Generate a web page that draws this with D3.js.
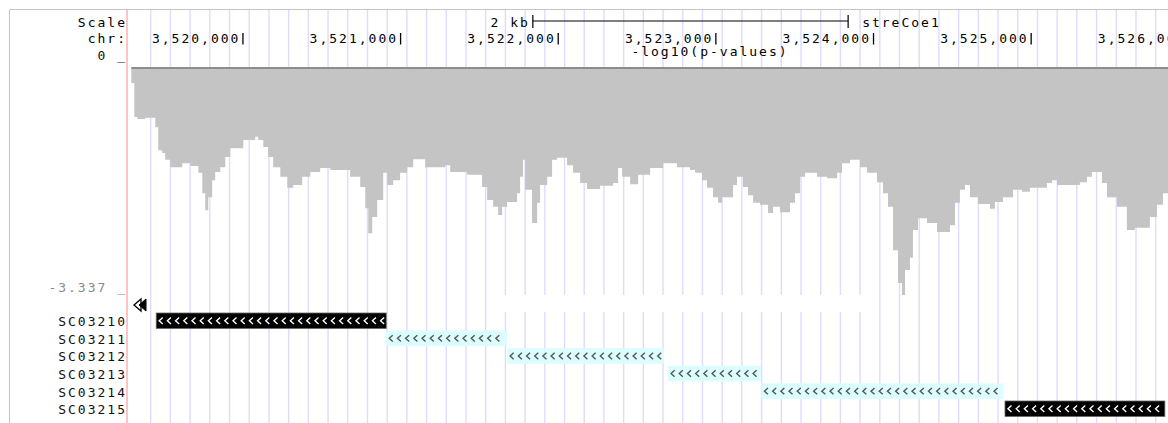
<!DOCTYPE html>
<html>
<head>
<meta charset="utf-8">
<script src="https://cdn.jsdelivr.net/npm/d3@7"></script>
<style>
  body { margin: 0; background: #fff; }
  svg text { font-family: "DejaVu Sans Mono", "Liberation Mono", monospace; font-size: 13px; letter-spacing: 2px; }
</style>
</head>
<body>
<script>
// Displayed window on the chromosome
const viewStart = 3519290;
const viewEnd = 3525868;
const assemblyName = "streCoe1";
const trackTitle = "-log10(p-values)";
const scaleBarStart = 3521839;
const scaleBarLength = 2000;
const scaleBarLabel = "2 kb";

// Chromosome position labels
const axisTicks = [3520000, 3521000, 3522000, 3523000, 3524000, 3525000, 3526000];

// Wiggle track: y-axis limits
const scoreMax = 0;
const scoreMin = -3.337;

// Wiggle track: start of each bin and its score
const binStart = [
  3519292, 3519311, 3519330, 3519380, 3519444, 3519463, 3519488, 3519507, 3519539, 3519615,
  3519666, 3519717, 3519742, 3519761, 3519780, 3519805, 3519824, 3519856, 3519888, 3519920,
  3520002, 3520078, 3520097, 3520129, 3520160, 3520192, 3520237, 3520281, 3520319, 3520376,
  3520427, 3520490, 3520554, 3520680, 3520744, 3520776, 3520795, 3520820, 3520852, 3520890,
  3520915, 3520953, 3520997, 3521042, 3521080, 3521156, 3521283, 3521315, 3521422, 3521517,
  3521549, 3521587, 3521619, 3521644, 3521676, 3521739, 3521758, 3521777, 3521790, 3521834,
  3521866, 3521885, 3521930, 3521961, 3521993, 3522056, 3522094, 3522139, 3522183, 3522266,
  3522348, 3522380, 3522405, 3522456, 3522507, 3522583, 3522665, 3522754, 3522836, 3522868,
  3522912, 3522944, 3522982, 3523014, 3523039, 3523109, 3523134, 3523172, 3523204, 3523236,
  3523280, 3523331, 3523363, 3523407, 3523470, 3523502, 3523534, 3523566, 3523642, 3523705,
  3523769, 3523800, 3523851, 3523914, 3523959, 3524022, 3524060, 3524092, 3524124, 3524155,
  3524181, 3524200, 3524231, 3524250, 3524282, 3524339, 3524403, 3524485, 3524517, 3524548,
  3524580, 3524612, 3524663, 3524739, 3524770, 3524821, 3524885, 3524942, 3524992, 3525100,
  3525132, 3525164, 3525309, 3525354, 3525385, 3525449, 3525481, 3525544, 3525607, 3525658,
  3525753, 3525798, 3525836
];
const score = [
  -0.22, -0.72, -0.75, -0.73, -0.87, -1.21, -1.25, -1.35, -1.46, -1.40,
  -1.44, -1.54, -1.84, -2.09, -1.90, -1.65, -1.53, -1.46, -1.31, -1.18,
  -1.06, -1.01, -1.06, -1.16, -1.31, -1.46, -1.60, -1.76, -1.72, -1.60,
  -1.53, -1.47, -1.50, -1.60, -1.75, -2.06, -2.43, -2.19, -1.94, -1.54,
  -1.72, -1.65, -1.54, -1.46, -1.34, -1.46, -1.43, -1.53, -1.57, -1.75,
  -1.94, -2.04, -2.16, -2.04, -1.97, -1.84, -1.60, -1.35, -1.79, -2.28,
  -1.98, -1.72, -1.60, -1.35, -1.32, -1.43, -1.54, -1.69, -1.78, -1.73,
  -1.69, -1.47, -1.60, -1.71, -1.57, -1.47, -1.40, -1.46, -1.50, -1.54,
  -1.65, -1.76, -1.90, -1.98, -1.90, -1.72, -1.60, -1.75, -1.87, -1.98,
  -2.01, -2.13, -2.04, -2.12, -1.98, -1.84, -1.60, -1.54, -1.60, -1.62,
  -1.54, -1.40, -1.35, -1.46, -1.54, -1.68, -1.84, -2.04, -2.68, -3.16,
  -3.337, -2.97, -2.79, -2.38, -2.21, -2.28, -2.41, -2.31, -1.98, -1.79,
  -1.72, -1.90, -2.00, -2.07, -1.97, -1.90, -1.79, -1.82, -1.76, -1.69,
  -1.65, -1.72, -1.68, -1.60, -1.53, -1.69, -1.90, -2.04, -2.38, -2.35,
  -2.19, -2.01, -1.84
];

// Gene track (all on the minus strand)
const geneNames = ["SC03210", "SC03211", "SC03212", "SC03213", "SC03214", "SC03215"];
const geneStart = [3519450, 3520909, 3521676, 3522697, 3523289, 3524834];
const geneEnd   = [3520909, 3521676, 3522671, 3523285, 3524821, 3525848];
const geneHighlighted = [true, false, false, false, false, true];

const W = 1168, H = 423;
const svg = d3.select("body").append("svg").attr("width", W).attr("height", H);

const dataLeft = 131, dataRight = 1168;
const x = d3.scaleLinear().domain([viewStart, viewEnd]).range([dataLeft, dataRight]);
const y = d3.scaleLinear().domain([scoreMax, scoreMin]).range([68, 295]);

// frame
svg.append("line").attr("x1", 9.5).attr("x2", W).attr("y1", 9.5).attr("y2", 9.5).attr("stroke", "#c4c4c4");
svg.append("line").attr("x1", 9.5).attr("x2", 9.5).attr("y1", 9.5).attr("y2", H).attr("stroke", "#c4c4c4");

// vertical guidelines every 125 bp
svg.append("g").selectAll("line")
  .data(d3.range(viewStart + 125, viewEnd + 1000, 125))
  .join("line")
  .attr("x1", d => x(d)).attr("x2", d => x(d))
  .attr("y1", 10).attr("y2", H)
  .attr("stroke", "#dcdcff").attr("stroke-width", 1.4);

// label gutter divider
svg.append("line").attr("x1", 127).attr("x2", 127).attr("y1", 10).attr("y2", H)
  .attr("stroke", "#ffb4b4").attr("stroke-width", 1.6);

// blank strip under the wiggle
svg.append("rect").attr("x", 503).attr("y", 295).attr("width", 374).attr("height", 17).attr("fill", "#fff");

// scale bar
const sb0 = x(scaleBarStart), sb1 = x(scaleBarStart + scaleBarLength);
const sbg = svg.append("g").attr("stroke", "#000").attr("stroke-width", 1.2);
sbg.append("line").attr("x1", sb0).attr("x2", sb1).attr("y1", 21).attr("y2", 21);
sbg.append("line").attr("x1", sb0).attr("x2", sb0).attr("y1", 15).attr("y2", 28);
sbg.append("line").attr("x1", sb1).attr("x2", sb1).attr("y1", 15).attr("y2", 28);
svg.append("text").attr("x", sb0 - 3).attr("y", 27).attr("text-anchor", "end").text(scaleBarLabel);
svg.append("text").attr("x", sb1 + 14).attr("y", 27).text(assemblyName);

// left labels
svg.append("text").attr("x", 127).attr("y", 27).attr("text-anchor", "end").text("Scale");
svg.append("text").attr("x", 127).attr("y", 43).attr("text-anchor", "end").text("chr:");

// chromosome position ticks
const tg = svg.append("g").selectAll("g").data(axisTicks).join("g");
tg.append("text").attr("x", d => x(d) - 2.5).attr("y", 43).attr("text-anchor", "end")
  .text(d => d3.format(",")(d));
tg.append("line").attr("x1", d => x(d)).attr("x2", d => x(d)).attr("y1", 33).attr("y2", 44.5)
  .attr("stroke", "#000").attr("stroke-width", 1.3);

// wiggle track title
svg.append("text").attr("x", 710).attr("y", 56).attr("text-anchor", "middle").text(trackTitle);

// wiggle axis labels
svg.append("text").attr("x", 127).attr("y", y(scoreMax) - 8).attr("text-anchor", "end").attr("fill", "#111").text(`${scoreMax} _`);
svg.append("text").attr("x", 127).attr("y", y(scoreMin) - 3).attr("text-anchor", "end").attr("fill", "#8a8a8a").text(`${scoreMin} _`);

// wiggle area
const bins = binStart.map((s, i) => ({ s, v: score[i] }));
bins.push({ s: viewEnd, v: score[score.length - 1] });
const area = d3.area().curve(d3.curveStepAfter)
  .x(d => x(d.s)).y0(y(0)).y1(d => y(d.v));
svg.append("path").datum(bins).attr("d", area).attr("fill", "#c4c4c4");
svg.append("line").attr("x1", x(binStart[0])).attr("x2", W).attr("y1", y(0)).attr("y2", y(0))
  .attr("stroke", "#8c8c8c").attr("stroke-width", 2);

// gene rows
const rowTop = i => 313 + 17.6 * i;
const rowH = 15.5;
geneNames.forEach((name, i) => {
  const g = svg.append("g");
  const x0 = x(geneStart[i]), x1 = x(geneEnd[i]);
  const top = rowTop(i), mid = top + rowH / 2;
  g.append("text").attr("x", 127).attr("y", mid + 5.5).attr("text-anchor", "end").attr("fill", "#111").text(name);
  g.append("rect").attr("x", x0).attr("y", top).attr("width", x1 - x0).attr("height", rowH)
    .attr("fill", geneHighlighted[i] ? "#000" : "#dcfdfd")
    .attr("stroke", geneHighlighted[i] ? "#666" : "none").attr("stroke-width", 0.8);
  const chev = d3.range(x0 + 3, x1 - 4, 8.2);
  g.selectAll("path").data(chev).join("path")
    .attr("d", cx => `M${cx + 3.5},${mid - 3.2} L${cx},${mid} L${cx + 3.5},${mid + 3.2}`)
    .attr("fill", "none")
    .attr("stroke", geneHighlighted[i] ? "#fff" : "#555")
    .attr("stroke-width", 1.4);
});

// "more items to the left" marker
const mk = svg.append("g");
mk.append("path").attr("d", "M134,305 L141,299 L141,311 Z").attr("fill", "#fff").attr("stroke", "#000").attr("stroke-width", 1.3);
mk.append("path").attr("d", "M139,305 L146,299 L146,311 Z").attr("fill", "#000").attr("stroke", "#000").attr("stroke-width", 1);
</script>
</body>
</html>
